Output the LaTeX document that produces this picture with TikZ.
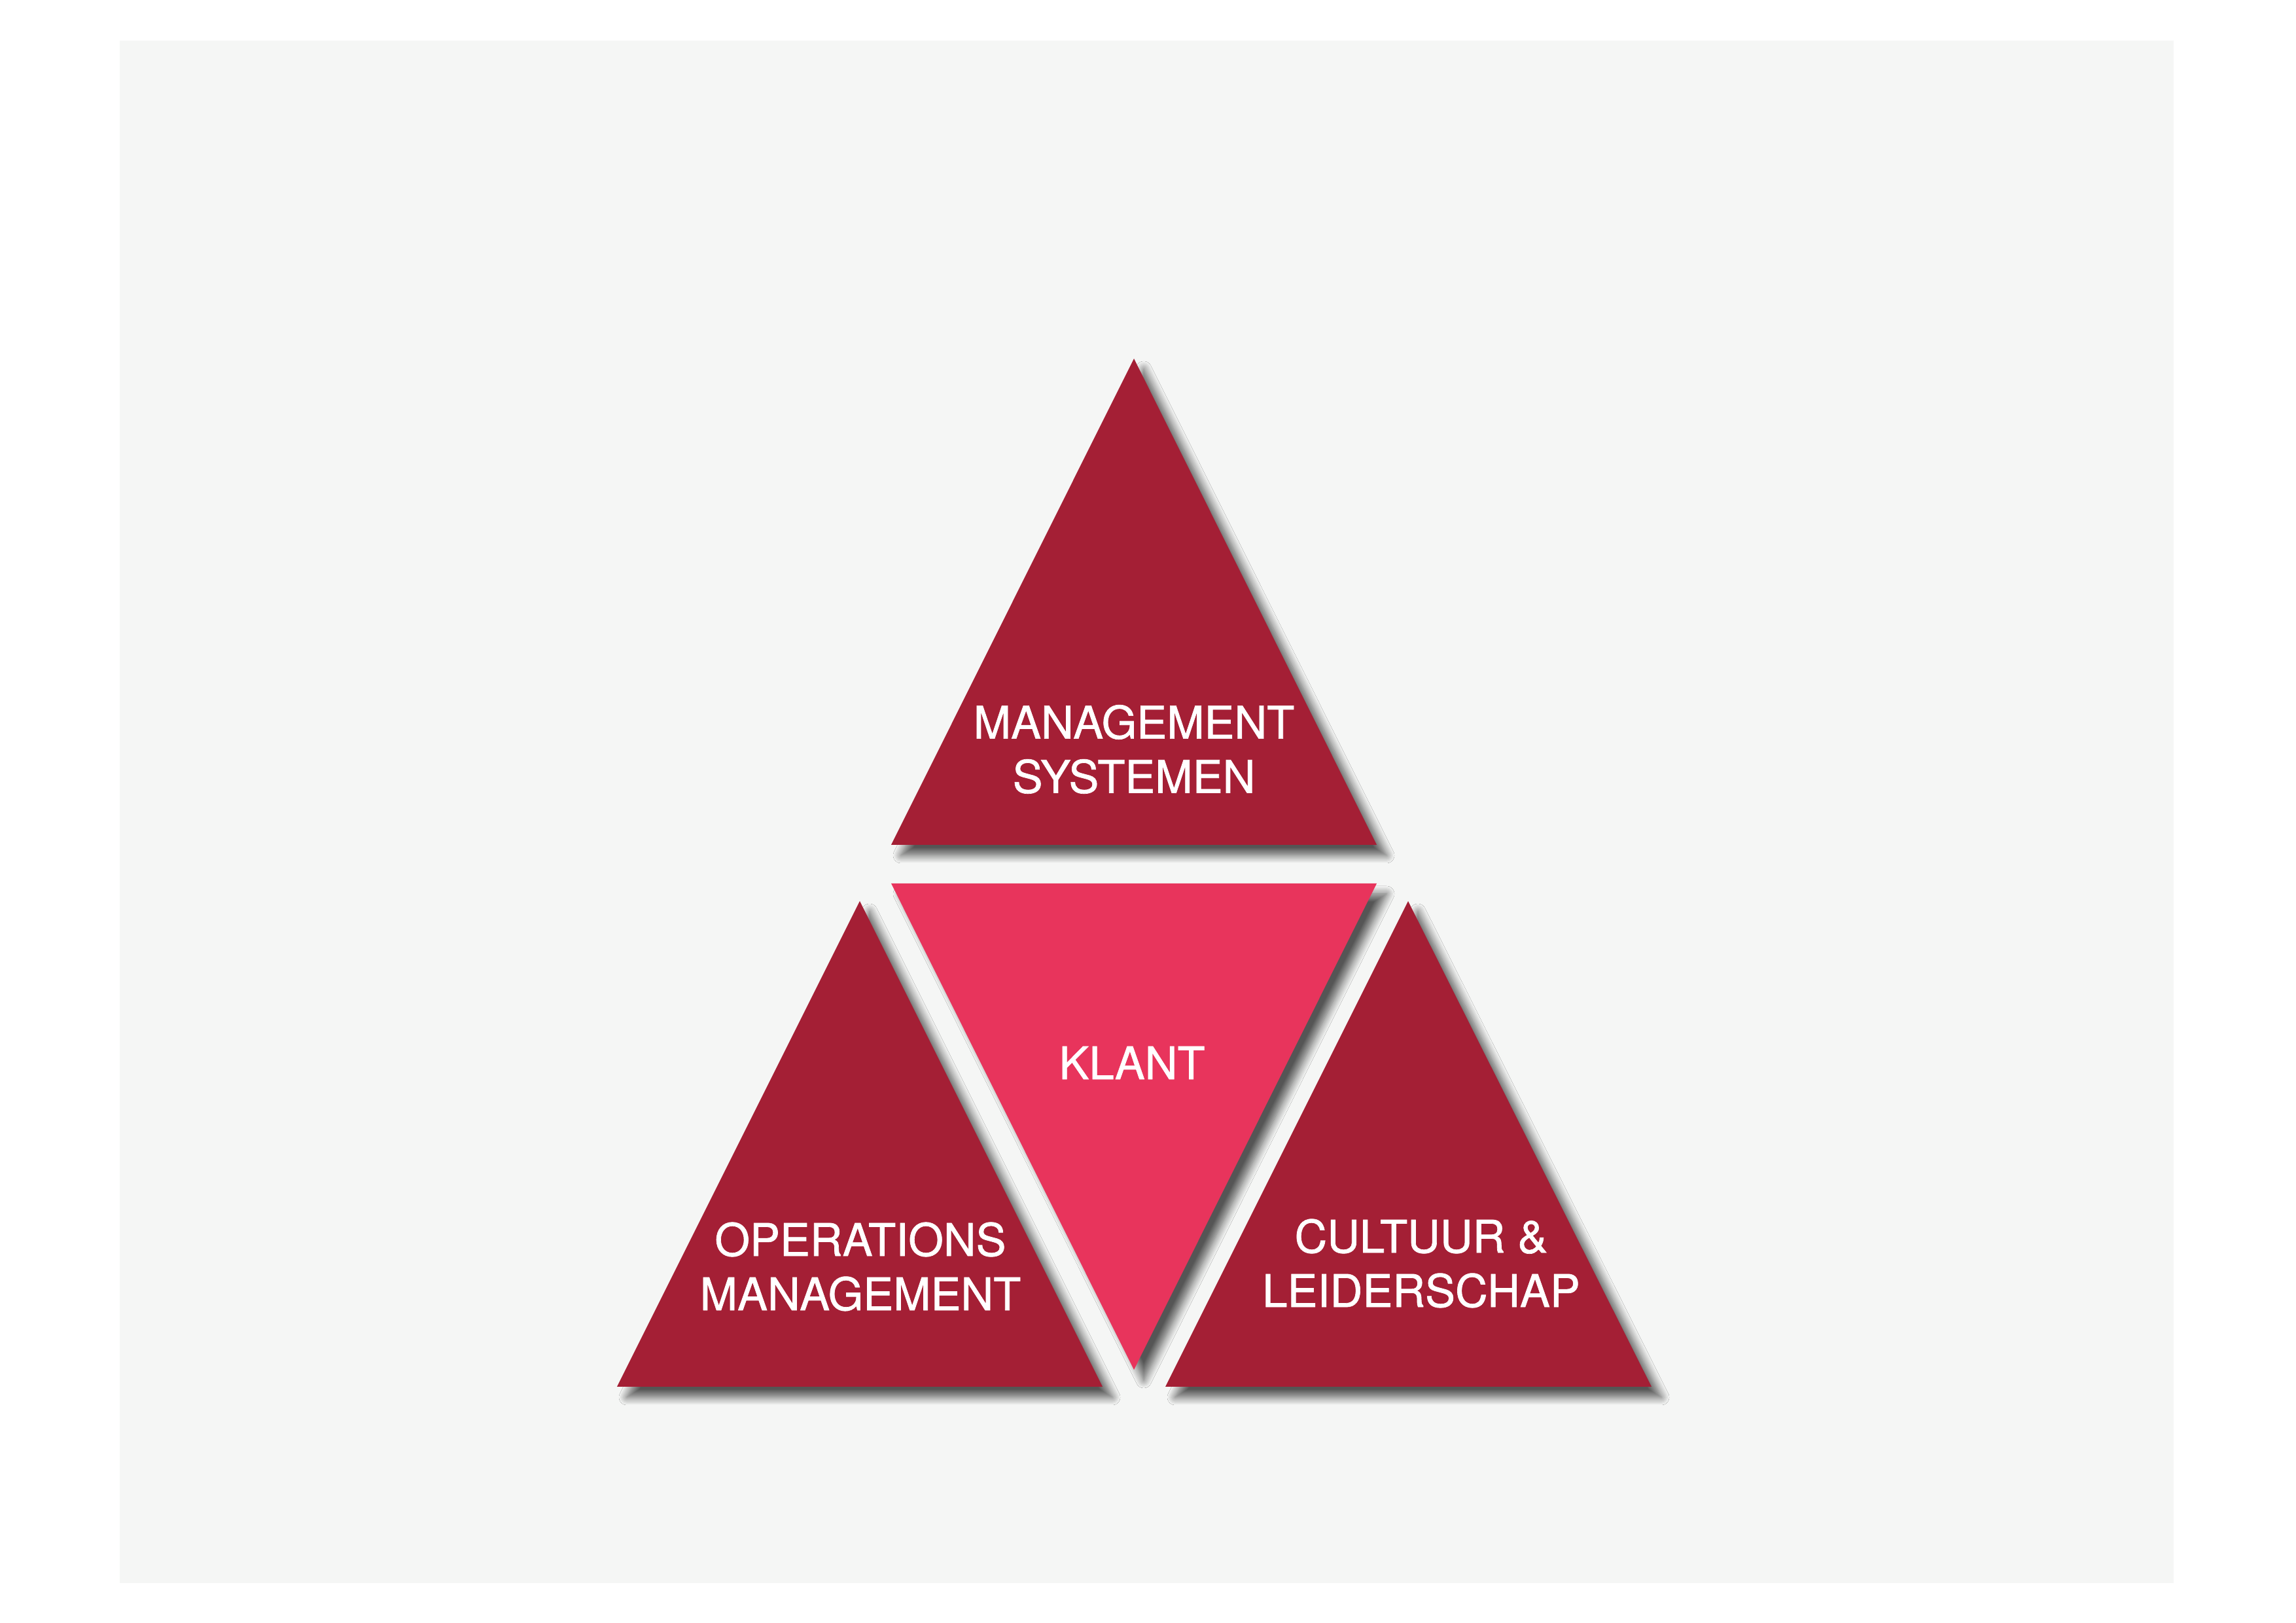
\documentclass[tikz,border=0pt]{standalone}
\usepackage{fontspec}
\setmainfont[FakeBold=1]{TeX Gyre Heros}
\usetikzlibrary{shadows.blur}
\definecolor{donkerrood}{RGB}{164,31,53}
\definecolor{roze}{RGB}{232,52,92}
\definecolor{achtergrond}{RGB}{245,246,245}

\begin{document}
\begin{tikzpicture}[
	vlak/.style={fill=donkerrood, blur shadow={shadow xshift=1.5mm, shadow yshift=-1.6mm, shadow blur radius=1.2mm, shadow blur steps=12, shadow opacity=65}},
	tekst/.style={text=white, align=center, inner sep=0pt, font=\fontsize{19.6}{23.6}\selectfont}]
		\useasboundingbox (0, 0) rectangle (35.09, 24.80);
		\fill [achtergrond] (1.83, 0.61) rectangle (33.22, 24.18); % Achtergrond
		
		\fill [vlak] (17.33, 19.32) -- (21.04, 11.89) -- (13.62, 11.89) -- cycle; % Bovenste driehoek
		\fill [vlak] (13.14, 11.03) -- (16.85, 3.61) -- (9.43, 3.61) -- cycle; % Links
		\fill [vlak, fill=roze] (13.62, 11.30) -- (21.04, 11.30) -- (17.33, 3.87) -- cycle; % Klant in het midden
		\fill [vlak] (21.52, 11.03) -- (25.24, 3.61) -- (17.81, 3.61) -- cycle; % Rechts
		
		\node [tekst] (systemen) at (17.33, 13.35) {MANAGEMENT\\SYSTEMEN};
		\node [tekst] (klant) at (17.30, 8.56) {KLANT};
		\node [tekst] (operations) at (13.15, 5.445) {OPERATIONS\\MANAGEMENT};
		\node [tekst] (cultuur) at (21.72, 5.495) {CULTUUR \&\\LEIDERSCHAP};
	\end{tikzpicture}
\end{document}
